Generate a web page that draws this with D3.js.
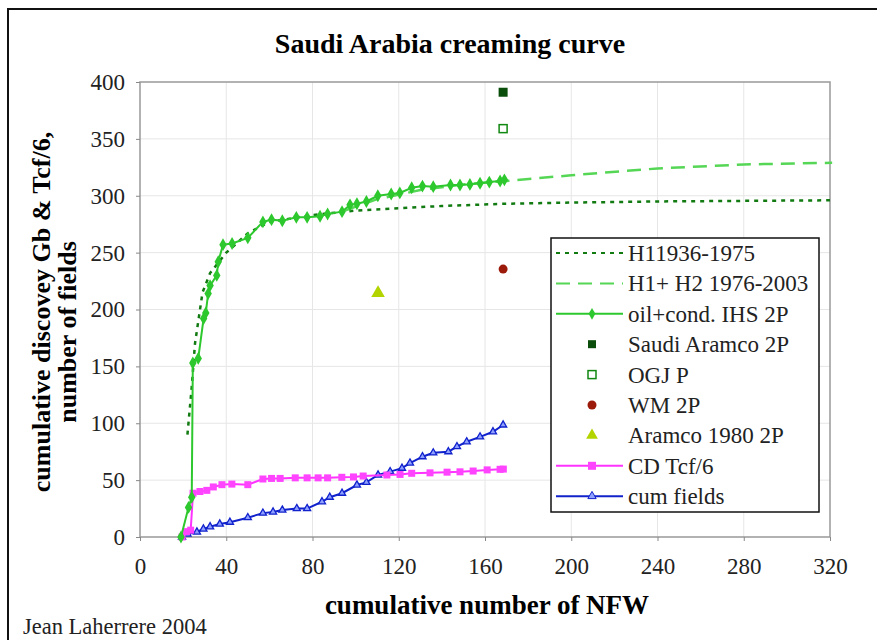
<!DOCTYPE html>
<html lang="en">
  <head>
    <meta charset="UTF-8" />
    <title>Saudi Arabia creaming curve</title>
    <style>
      body { margin: 0; background: #fff; }
      svg, svg text { font-family: "Liberation Serif", "Times New Roman", Times, "DejaVu Serif", serif !important; }
      .grid line { stroke: #e6e6e6; stroke-width: 1px; }
      .axis path, .axis line { stroke: #888; }
      .axis text { font-size: 23px; fill: #222; }
    </style>
  </head>
  <body>
    <div id="wrapper"></div>
    <script src="https://d3js.org/d3.v7.min.js"></script>
    <script>
      // ticks
      var xTicks = [0, 40, 80, 120, 160, 200, 240, 280, 320];
      var yTicks = [0, 50, 100, 150, 200, 250, 300, 350, 400];

      // H1 1936-1975 hyperbola (x = NFW, y = Gb)
      var h1X = [22, 24, 25.5, 29, 32.5, 40, 50, 60, 80, 100, 120, 140, 170, 200, 240, 280, 320];
      var h1Y = [90, 132, 170, 215, 232, 250, 267, 277, 283, 287, 289, 291, 293, 294, 295, 295.5, 296];

      // H1+H2 1976-2003
      var h2X = [95, 110, 130, 150, 170, 200, 240, 280, 321];
      var h2Y = [287, 297, 305, 310, 313, 318, 324, 327.5, 329];

      // oil+cond. IHS 2P
      var oilX = [19, 22.5, 24, 24.5, 27, 29.5, 30.5, 31.6, 32.5, 35.6, 36.3, 38.5, 42.7, 50, 57, 61, 66, 72.5, 77.5,
                  83.5, 87, 93.7, 97.4, 100.6, 105, 110.3, 116.5, 120.5, 126, 131, 136, 144, 148.4, 153, 157.7, 162, 167, 169];
      var oilY = [0, 26, 35, 153, 157, 192, 197, 214, 221, 230, 242, 257, 258, 263, 277, 279, 278, 281, 281,
                  282, 284, 286, 292, 293, 295, 300, 301.5, 302.5, 307, 308.5, 308, 309.5, 309.5, 310, 311, 312, 313, 314];

      // CD Tcf/6
      var cdX = [19.5, 21.6, 23.5, 24.6, 27.8, 31, 34, 38, 42.6, 50, 57, 61, 65, 72, 77.5, 82.6, 87, 93.6, 99, 103.5,
                 114.5, 120.6, 126, 134.5, 142.4, 148.4, 154.5, 161, 167, 168.5];
      var cdY = [0, 4.7, 6, 38.5, 40, 41, 44, 46, 46.5, 46, 51, 51.5, 51.5, 52, 52, 52, 52, 52.5, 52.8, 53.6,
                 54.5, 55, 56, 56.4, 57, 57.3, 58, 59, 59.5, 59.7];

      // cum fields
      var fieldsX = [19.5, 22, 26.4, 29.4, 32.5, 37, 41.7, 50, 57, 61.7, 66, 72.7, 77.5, 84.4, 88, 93.7, 100.6, 105,
                     110.4, 116, 121.5, 125.2, 131, 136, 143, 147, 151.5, 157.7, 163.7, 168.4];
      var fieldsY = [0, 2.6, 4.4, 7, 9, 11.4, 13, 17, 21, 22, 23.7, 25, 25, 31, 35, 38.5, 45.7, 48,
                     54.5, 57.5, 60.5, 65, 70.6, 74, 75, 79.5, 83.7, 88, 92.5, 98.5];

      // single estimates
      var pointNames = ["Saudi Aramco 2P", "OGJ P", "WM 2P", "Aramco 1980 2P"];
      var pointX = [168.4, 168.4, 168.4, 110.4];
      var pointY = [391, 359, 235.5, 214.5];

      var legendNames = ["H11936-1975", "H1+ H2 1976-2003", "oil+cond. IHS 2P", "Saudi Aramco 2P",
                         "OGJ P", "WM 2P", "Aramco 1980 2P", "CD Tcf/6", "cum fields"];

      var W = 877, H = 640;
      var margin = {top: 82, right: 47, bottom: 103, left: 140},
          width = W - margin.left - margin.right,
          height = H - margin.top - margin.bottom;

      var svg = d3.select("#wrapper").append("svg")
          .attr("width", W)
          .attr("height", H);

      // outer frame (runs off the right and bottom edge)
      svg.append("path")
          .attr("d", "M8," + (H + 5) + "V9H" + (W + 5))
          .attr("fill", "none")
          .attr("stroke", "#111")
          .attr("stroke-width", 2);

      svg.append("text")
          .attr("x", 450).attr("y", 53)
          .attr("text-anchor", "middle")
          .style("font-size", "28px").style("font-weight", "bold")
          .text("Saudi Arabia creaming curve");

      var g = svg.append("g")
          .attr("transform", "translate(" + margin.left + "," + margin.top + ")");

      var x = d3.scaleLinear().domain([0, 320]).range([0, width]);
      var y = d3.scaleLinear().domain([0, 400]).range([height, 0]);

      // grid
      g.append("g").attr("class", "grid")
          .selectAll("line").data(xTicks.slice(1, -1)).join("line")
          .attr("x1", d => x(d)).attr("x2", d => x(d))
          .attr("y1", 0).attr("y2", height);
      g.append("g").attr("class", "grid")
          .selectAll("line").data(yTicks.slice(1, -1)).join("line")
          .attr("x1", 0).attr("x2", width)
          .attr("y1", d => y(d)).attr("y2", d => y(d));

      // plot border
      g.append("rect")
          .attr("width", width).attr("height", height)
          .attr("fill", "none").attr("stroke", "#999").attr("stroke-width", 1.5);

      // Add the X Axis
      g.append("g").attr("class", "axis")
          .attr("transform", "translate(0," + height + ")")
          .call(d3.axisBottom(x).tickValues(xTicks).tickSize(4).tickPadding(17))
          .call(a => a.select(".domain").remove());

      // Add the Y Axis
      g.append("g").attr("class", "axis")
          .call(d3.axisLeft(y).tickValues(yTicks).tickSize(4).tickPadding(11))
          .call(a => a.select(".domain").remove());

      svg.append("text")
          .attr("x", 487).attr("y", 614)
          .attr("text-anchor", "middle")
          .style("font-size", "27px").style("font-weight", "bold")
          .text("cumulative number of NFW");

      var yl = svg.append("text")
          .attr("transform", "translate(50,312) rotate(-90)")
          .attr("text-anchor", "middle")
          .style("font-size", "26px").style("font-weight", "bold");
      yl.append("tspan").attr("x", 0).attr("dy", 0).text("cumulative discovey Gb & Tcf/6,");
      yl.append("tspan").attr("x", -20).attr("dy", 26).text("number of fields");

      svg.append("text")
          .attr("x", 23).attr("y", 634)
          .style("font-size", "22.5px").style("fill", "#222")
          .text("Jean Laherrere 2004");

      var line = d3.line().x(d => x(d[0])).y(d => y(d[1]));
      function pairs(xs, ys) { return xs.map((v, i) => [v, ys[i]]); }

      var h1 = pairs(h1X, h1Y), h2 = pairs(h2X, h2Y), oil = pairs(oilX, oilY),
          cd = pairs(cdX, cdY), fields = pairs(fieldsX, fieldsY);

      var plot = g.append("g");

      // hyperbolas
      plot.append("path").datum(h1).attr("d", line)
          .attr("fill", "none").attr("stroke", "#117a11").attr("stroke-width", 2.5)
          .attr("stroke-dasharray", "4,5");
      plot.append("path").datum(h2).attr("d", line)
          .attr("fill", "none").attr("stroke", "#55d655").attr("stroke-width", 2.5)
          .attr("stroke-dasharray", "14,8");

      // cum fields
      plot.append("path").datum(fields).attr("d", line)
          .attr("fill", "none").attr("stroke", "#1122cc").attr("stroke-width", 2);
      plot.selectAll(".tri").data(fields).join("path")
          .attr("transform", d => "translate(" + x(d[0]) + "," + y(d[1]) + ")")
          .attr("d", d3.symbol(d3.symbolTriangle, 22))
          .attr("fill", "#8fa0ff").attr("stroke", "#1122cc").attr("stroke-width", 1.3);

      // CD Tcf/6
      plot.append("path").datum(cd).attr("d", line)
          .attr("fill", "none").attr("stroke", "#ff33ff").attr("stroke-width", 2);
      plot.selectAll(".sq").data(cd).join("rect")
          .attr("x", d => x(d[0]) - 3.5).attr("y", d => y(d[1]) - 3.5)
          .attr("width", 7).attr("height", 7).attr("fill", "#ff44ff");

      // oil+cond
      plot.append("path").datum(oil).attr("d", line)
          .attr("fill", "none").attr("stroke", "#2dc82d").attr("stroke-width", 2);
      plot.selectAll(".dia").data(oil).join("path")
          .attr("transform", d => "translate(" + x(d[0]) + "," + y(d[1]) + ")")
          .attr("d", d3.symbol(d3.symbolDiamond, 48))
          .attr("fill", "#2dc82d");

      // single points
      var pts = pairs(pointX, pointY);
      plot.append("rect").datum(pts[0])
          .attr("x", d => x(d[0]) - 4.5).attr("y", d => y(d[1]) - 4.5)
          .attr("width", 9).attr("height", 9).attr("fill", "#0b4d0b");
      plot.append("rect").datum(pts[1])
          .attr("x", d => x(d[0]) - 4).attr("y", d => y(d[1]) - 4)
          .attr("width", 8).attr("height", 8).attr("fill", "#fff")
          .attr("stroke", "#118811").attr("stroke-width", 1.5);
      plot.append("circle").datum(pts[2])
          .attr("cx", d => x(d[0])).attr("cy", d => y(d[1])).attr("r", 4.5)
          .attr("fill", "#9b1a0a");
      plot.append("path").datum(pts[3])
          .attr("transform", d => "translate(" + x(d[0]) + "," + y(d[1]) + ")")
          .attr("d", d3.symbol(d3.symbolTriangle, 80))
          .attr("fill", "#b4d400");

      // legend
      var lg = svg.append("g").attr("transform", "translate(551,238)");
      lg.append("rect")
          .attr("width", 268).attr("height", 274)
          .attr("fill", "#fff").attr("stroke", "#111").attr("stroke-width", 1.5);

      var item = lg.selectAll(".item").data(legendNames).join("g")
          .attr("transform", (d, i) => "translate(0," + (15 + i * 30.4) + ")");
      item.append("text")
          .attr("x", 77).attr("y", 8)
          .style("font-size", "23px").style("fill", "#222")
          .text(d => d);

      var sw = [
        {stroke: "#117a11", dash: "4,5"},
        {stroke: "#55d655", dash: "14,8"},
        {stroke: "#2dc82d", dash: null, mark: "dia"},
        {mark: "fsq"}, {mark: "osq"}, {mark: "circ"}, {mark: "tri"},
        {stroke: "#ff33ff", dash: null, mark: "sq"},
        {stroke: "#1122cc", dash: null, mark: "btri"}
      ];
      item.each(function(d, i) {
        var s = sw[i], it = d3.select(this);
        if (s.stroke) {
          it.append("line").attr("x1", 5).attr("x2", 72)
              .attr("stroke", s.stroke).attr("stroke-width", 2)
              .attr("stroke-dasharray", s.dash);
        }
        if (s.mark === "dia") it.append("path").attr("transform", "translate(41,0)")
            .attr("d", d3.symbol(d3.symbolDiamond, 40)).attr("fill", "#2dc82d");
        if (s.mark === "fsq") it.append("rect").attr("x", 37).attr("y", -4).attr("width", 8).attr("height", 8).attr("fill", "#0b4d0b");
        if (s.mark === "osq") it.append("rect").attr("x", 37).attr("y", -4).attr("width", 8).attr("height", 8)
            .attr("fill", "#fff").attr("stroke", "#118811").attr("stroke-width", 1.5);
        if (s.mark === "circ") it.append("circle").attr("cx", 41).attr("r", 4.5).attr("fill", "#9b1a0a");
        if (s.mark === "tri") it.append("path").attr("transform", "translate(41,0)")
            .attr("d", d3.symbol(d3.symbolTriangle, 60)).attr("fill", "#b4d400");
        if (s.mark === "sq") it.append("rect").attr("x", 37).attr("y", -4).attr("width", 8).attr("height", 8).attr("fill", "#ff44ff");
        if (s.mark === "btri") it.append("path").attr("transform", "translate(41,0)")
            .attr("d", d3.symbol(d3.symbolTriangle, 30)).attr("fill", "#8fa0ff").attr("stroke", "#1122cc");
      });
    </script>
  </body>
</html>
